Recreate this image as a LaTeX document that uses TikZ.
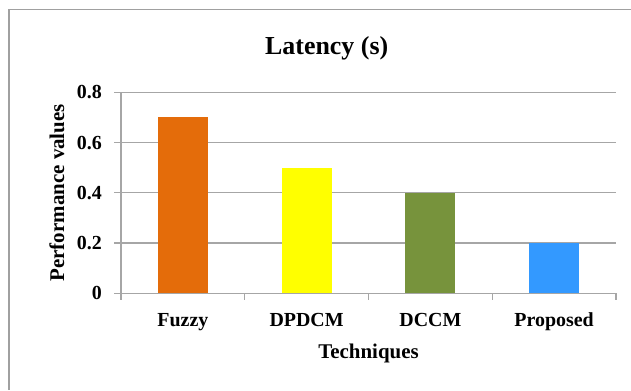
\documentclass[tikz,border=0pt]{standalone}
\usepackage{fontspec}
\setmainfont{Liberation Serif}
\definecolor{framegray}{HTML}{A0A0A0}
\definecolor{gridgray}{HTML}{A6A6A6}
\definecolor{fuzzyc}{HTML}{E46C0A}
\definecolor{dpdcmc}{HTML}{FFFF00}
\definecolor{dccmc}{HTML}{77933C}
\definecolor{propc}{HTML}{3399FF}
\begin{document}
\begin{tikzpicture}[x=1bp,y=-1bp,
  gridline/.style={draw=gridgray,line width=1.3bp},
  ticklbl/.style={font=\bfseries\fontsize{20}{22}\selectfont,inner sep=0pt},
  catlbl/.style={font=\bfseries\fontsize{20}{24}\selectfont,inner sep=0pt,anchor=base},
  axtitle/.style={font=\bfseries\fontsize{21}{24}\selectfont,inner sep=0pt,anchor=base},
  bar/.style={draw=none}]
\useasboundingbox (0,0) rectangle (631,390);
\fill[white] (0,0) rectangle (631,390);
% frame (left and top visible)
\draw[framegray,line width=1.5bp] (9,390) -- (9,9.3) -- (631,9.3);
% gridlines
\foreach \yy in {92.3,142.55,192.8,243.05}{
  \draw[gridline] (114,\yy) -- (616,\yy);
}
% bars
\fill[fuzzyc]  (157.9,293.3) rectangle (207.9,117.4);
\fill[dpdcmc]  (281.6,293.3) rectangle (331.6,167.7);
\fill[dccmc]   (405.4,293.3) rectangle (455.4,192.8);
\fill[propc]   (529.1,293.3) rectangle (579.1,243.05);
% axes
\draw[gridline] (121,92.3) -- (121,299.5);
\draw[gridline] (114,293.3) -- (616,293.3);
\foreach \xx in {244.75,368.5,492.25,616}{
  \draw[gridline] (\xx,293.3) -- (\xx,299.5);
}
% title
\node[font=\bfseries\fontsize{26}{30}\selectfont,inner sep=0pt,anchor=base] (title) at (326.7,54) {Latency (s)};
% y tick labels
\node[ticklbl,anchor=east] (y8) at (102,92.3) {0.8};
\node[ticklbl,anchor=east] (y6) at (102,142.55) {0.6};
\node[ticklbl,anchor=east] (y4) at (102,192.8) {0.4};
\node[ticklbl,anchor=east] (y2) at (102,243.05) {0.2};
\node[ticklbl,anchor=east] (y0) at (102,293.3) {0};
% category labels
\node[catlbl] (c1) at (182.9,326) {Fuzzy};
\node[catlbl] (c2) at (306.6,326) {DPDCM};
\node[catlbl] (c3) at (430.4,326) {DCCM};
\node[catlbl] (c4) at (554.1,326) {Proposed};
% axis titles
\node[axtitle] (xt) at (368.5,358) {Techniques};
\node[axtitle,rotate=90] (yt) at (64,192.8) {Performance values};
\end{tikzpicture}
\end{document}
